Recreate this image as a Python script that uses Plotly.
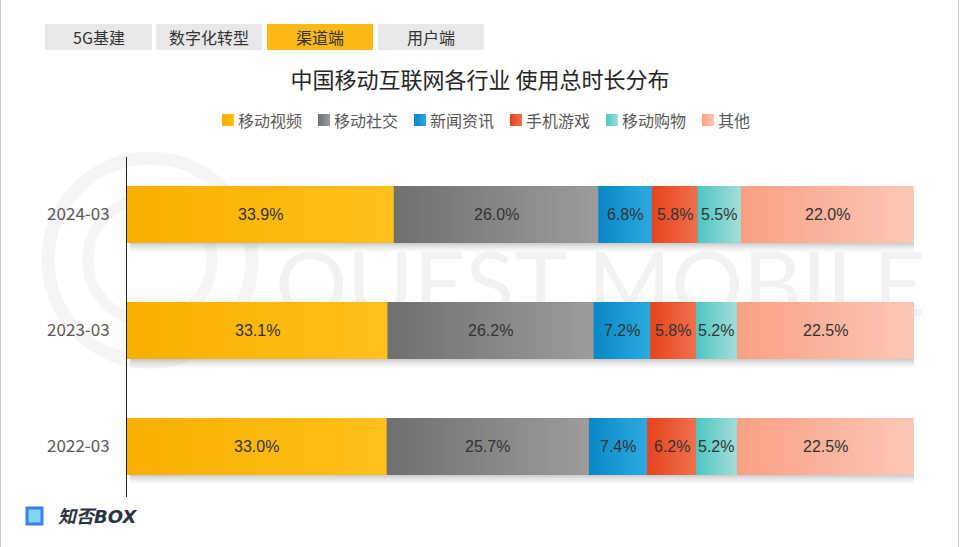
import base64
import struct
import zlib
import plotly.graph_objects as go

# ---------------- data ----------------
categories = ["2024-03", "2023-03", "2022-03"]
series_names = ["移动视频", "移动社交", "新闻资讯", "手机游戏", "移动购物", "其他"]
v_video = [33.9, 33.1, 33.0]
v_social = [26.0, 26.2, 25.7]
v_news = [6.8, 7.2, 7.4]
v_game = [5.8, 5.8, 6.2]
v_shop = [5.5, 5.2, 5.2]
v_other = [22.0, 22.5, 22.5]
series_values = [v_video, v_social, v_news, v_game, v_shop, v_other]
title_text = "中国移动互联网各行业 使用总时长分布"
tabs = ["5G基建", "数字化转型", "渠道端", "用户端"]
active_tab = "渠道端"
watermark = "QUEST MOBILE"
brand = "知否BOX"

# ---------------- style ----------------
grad = [
    ((248, 176, 0), (254, 192, 26)),
    ((112, 112, 112), (156, 156, 156)),
    ((8, 136, 198), (44, 170, 224)),
    ((230, 68, 30), (240, 112, 76)),
    ((78, 198, 196), (164, 222, 216)),
    ((249, 160, 132), (252, 200, 182)),
]
W, H = 960, 547
L, R, T, B = 127, 46, 157, 50
BAR_W = 0.49
Y_RANGE = [-0.435, 2.496]
CJK = "Noto Sans CJK SC, Microsoft YaHei, sans-serif"
LAT = "Liberation Sans, Arial, sans-serif"


def px_x(px):
    return (px - L) / (W - L - R)


def px_y(py):
    return (H - B - py) / (H - T - B)


def png_uri(rows):
    w = len(rows[0])
    h = len(rows)
    raw = b"".join(b"\x00" + bytes([c for p in row for c in p]) for row in rows)

    def chunk(tag, data):
        c = struct.pack(">I", len(data)) + tag + data
        return c + struct.pack(">I", zlib.crc32(tag + data) & 0xFFFFFFFF)

    png = b"\x89PNG\r\n\x1a\n"
    png += chunk(b"IHDR", struct.pack(">IIBBBBB", w, h, 8, 6, 0, 0, 0))
    png += chunk(b"IDAT", zlib.compress(raw, 9))
    png += chunk(b"IEND", b"")
    return "data:image/png;base64," + base64.b64encode(png).decode()


def hgrad(c0, c1, n=64, h=2):
    row = []
    for i in range(n):
        t = i / (n - 1)
        row.append(tuple(int(round(c0[k] + (c1[k] - c0[k]) * t)) for k in range(3)) + (255,))
    return png_uri([row] * h)


def vshadow(n=16):
    rows = []
    for i in range(n):
        t = i / (n - 1)
        a = int(round(110 * (1 - t) ** 1.6))
        rows.append([(140, 140, 140, a)] * 2)
    return png_uri(rows)


def hexmid(c0, c1):
    return "#%02x%02x%02x" % tuple((c0[k] + c1[k]) // 2 for k in range(3))


positions = [len(categories) - 1 - i for i in range(len(categories))]

fig = go.Figure()
for name, vals, (c0, c1) in zip(series_names, series_values, grad):
    fig.add_trace(go.Bar(
        y=positions, x=vals, name=name, orientation="h", width=BAR_W,
        marker=dict(color=hexmid(c0, c1), line=dict(width=0)),
        hoverinfo="skip", showlegend=False,
    ))

images = []
annotations = []
shapes = []
shadow_uri = vshadow()
grad_uris = [hgrad(c0, c1) for c0, c1 in grad]
unit_px = (H - T - B) / (Y_RANGE[1] - Y_RANGE[0])
for ci, pos in enumerate(positions):
    total = sum(s[ci] for s in series_values)
    images.append(dict(source=shadow_uri, xref="x", yref="y", x=0.4, y=pos - BAR_W / 2,
                       sizex=total + 0.3, sizey=11 / unit_px, sizing="stretch",
                       xanchor="left", yanchor="top", layer="below"))
    start = 0.0
    for si, vals in enumerate(series_values):
        v = vals[ci]
        images.append(dict(source=grad_uris[si], xref="x", yref="y", x=start, y=pos + BAR_W / 2,
                           sizex=v, sizey=BAR_W, sizing="stretch",
                           xanchor="left", yanchor="top", layer="above"))
        annotations.append(dict(x=start + v / 2, y=pos, xref="x", yref="y", text=f"{v:.1f}%",
                                showarrow=False, xanchor="center", yanchor="middle",
                                font=dict(family=LAT, size=16, color="#333333")))
        start += v

# legend (gradient swatches + labels)
CH = 16
sym, gap1, gap2 = 12, 2, 18
total_w = sum(sym + gap1 + len(n) * CH for n in series_names) + gap2 * (len(series_names) - 1)
lx = 485 - total_w / 2
ly = 120
for si, name in enumerate(series_names):
    images.append(dict(source=grad_uris[si], xref="paper", yref="paper", x=px_x(lx), y=px_y(ly - 6),
                       sizex=px_x(lx + sym) - px_x(lx), sizey=px_y(ly - 6) - px_y(ly + 6),
                       sizing="stretch", xanchor="left", yanchor="top", layer="above"))
    annotations.append(dict(x=px_x(lx + sym + gap1), y=px_y(ly), xref="paper", yref="paper",
                            text=name, showarrow=False, xanchor="left", yanchor="middle",
                            font=dict(family=CJK, size=16, color="#595959")))
    lx += sym + gap1 + len(name) * CH + gap2

# tabs
tab_x = [(45, 152), (156, 262), (267, 373), (378, 484)]
for (x0, x1), t in zip(tab_x, tabs):
    shapes.append(dict(type="rect", xref="paper", yref="paper", x0=px_x(x0), x1=px_x(x1),
                       y0=px_y(50), y1=px_y(24), line=dict(width=0),
                       fillcolor="#FDB913" if t == active_tab else "#E8E8E8", layer="below"))
    annotations.append(dict(x=px_x((x0 + x1) / 2), y=px_y(37), xref="paper", yref="paper",
                            text=t, showarrow=False, xanchor="center", yanchor="middle",
                            font=dict(family=CJK, size=16, color="#333333")))

# watermark
shapes.append(dict(type="circle", xref="paper", yref="paper", x0=px_x(48), x1=px_x(252),
                   y0=px_y(362), y1=px_y(158), line=dict(color="#f5f5f5", width=13), layer="below"))
shapes.append(dict(type="circle", xref="paper", yref="paper", x0=px_x(88), x1=px_x(212),
                   y0=px_y(322), y1=px_y(198), line=dict(color="#f5f5f5", width=11), layer="below"))
shapes.append(dict(type="rect", xref="paper", yref="paper", x0=px_x(280), x1=px_x(920),
                   y0=px_y(330), y1=px_y(230), line=dict(width=0), fillcolor="rgba(0,0,0,0)",
                   layer="below",
                   label=dict(text=watermark, textposition="middle center",
                              font=dict(family="Lato, sans-serif", size=90, color="#f2f2f2"))))

# frame lines
for xp in (0.5, 958.5):
    shapes.append(dict(type="line", xref="paper", yref="paper", x0=px_x(xp), x1=px_x(xp),
                       y0=px_y(0), y1=px_y(547), line=dict(color="#cccccc", width=1), layer="above"))

# brand logo
shapes.append(dict(type="rect", xref="paper", yref="paper", x0=px_x(27), x1=px_x(42),
                   y0=px_y(524), y1=px_y(508), line=dict(color="#3d7df5", width=3),
                   fillcolor="#7fd6f7", layer="above"))
annotations.append(dict(x=px_x(56), y=px_y(516), xref="paper", yref="paper",
                        xanchor="left", yanchor="middle",
                        text=f"<b><i>{brand}</i></b>", showarrow=False,
                        font=dict(family="DejaVu Sans, Noto Sans CJK SC, sans-serif", size=18,
                                  color="#2c3440")))

fig.update_layout(
    width=W, height=H,
    margin=dict(l=L, r=R, t=T, b=B, pad=0),
    barmode="stack",
    paper_bgcolor="white", plot_bgcolor="rgba(0,0,0,0)",
    title=dict(text=title_text, x=0.5, xref="container", xanchor="center",
               y=1 - 80 / H, yref="container", yanchor="middle",
               font=dict(family=CJK, size=22, color="#262626")),
    showlegend=False,
    xaxis=dict(range=[0, 100], visible=False, fixedrange=True),
    yaxis=dict(range=Y_RANGE, tickvals=positions, ticktext=categories, showgrid=False,
               zeroline=False, showline=True, linecolor="#222222", linewidth=1,
               ticks="", ticklabelstandoff=13, fixedrange=True,
               tickfont=dict(family=CJK, size=17, color="#595959")),
    images=images, annotations=annotations, shapes=shapes,
)

fig.write_html("out.html", config={"displayModeBar": False})
